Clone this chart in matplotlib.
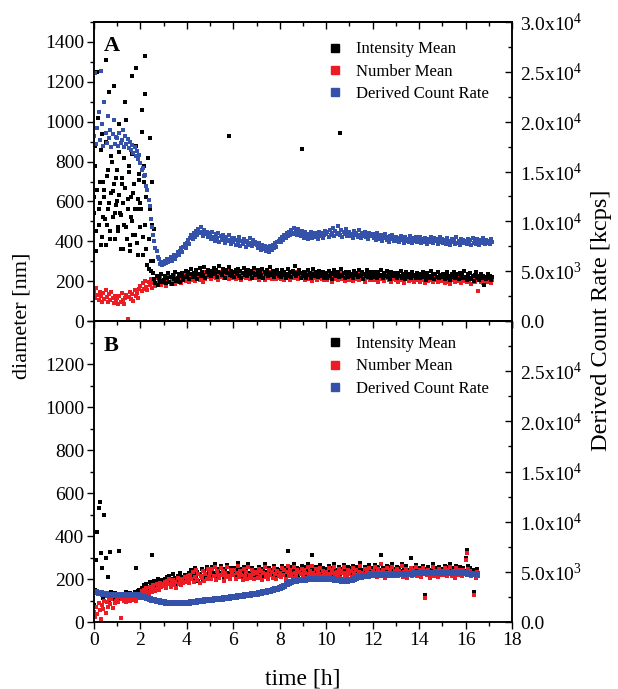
import numpy as np
import matplotlib
matplotlib.use('Agg')
import matplotlib.pyplot as plt
from matplotlib.ticker import MultipleLocator, FixedLocator, FixedFormatter
from matplotlib.lines import Line2D

plt.rcParams['font.family'] = ['Liberation Serif', 'DejaVu Serif']
plt.rcParams['mathtext.fontset'] = 'custom'
plt.rcParams['mathtext.rm'] = 'Liberation Serif'

DT = 0.05          # h between diameter readings
DT_RATE_B = 0.1    # h between count-rate readings in panel B

# ---- panel A ----
# intensity mean [nm], one row per hour
intensity_a = [
    620, 880, 450, 1250, 560, 700, 380, 940, 520, 660, 1310, 480, 760, 590, 410, 830, 650, 1180, 540, 720,
    600, 450, 990, 530, 690, 360, 820, 1100, 470, 610, 750, 380, 520, 1230, 640, 430, 880, 560, 330, 710,
    590, 1060, 420, 780, 1330, 360, 660, 260, 920, 300, 480, 240, 210, 190, 225, 180, 215, 200, 235, 195,
    205, 228, 190, 215, 240, 198, 222, 186, 230, 212, 248, 200, 218, 235, 195, 226, 242, 208, 220, 250,
    225, 248, 212, 236, 260, 219, 241, 228, 255, 210, 238, 265, 224, 246, 232, 270, 218, 244, 256, 230,
    252, 228, 245, 268, 236, 258, 222, 247, 275, 240, 230, 262, 248, 218, 255, 240, 270, 232, 250, 226,
    244, 220, 256, 238, 262, 228, 250, 214, 242, 268, 232, 246, 224, 258, 236, 250, 218, 240, 265, 230,
    238, 256, 222, 245, 230, 262, 216, 248, 236, 254, 226, 242, 270, 230, 250, 220, 244, 236, 258, 228,
    240, 222, 256, 232, 248, 215, 238, 262, 228, 244, 220, 252, 236, 275, 226, 242, 234, 255, 218, 240,
    226, 248, 235, 218, 256, 230, 242, 214, 238, 260, 224, 246, 232, 220, 252, 236, 228, 244, 216, 240,
    232, 218, 250, 226, 242, 212, 238, 256, 224, 236, 248, 220, 232, 262, 226, 240, 214, 246, 230, 222,
    244, 226, 236, 216, 252, 230, 240, 220, 258, 232, 224, 246, 212, 238, 228, 254, 222, 236, 245, 218,
    230, 248, 220, 238, 214, 244, 226, 256, 232, 218, 240, 228, 250, 222, 234, 212, 246, 230, 224, 242,
    228, 216, 240, 224, 252, 218, 234, 226, 210, 244, 230, 220, 238, 214, 248, 226, 232, 218, 242, 224,
    236, 214, 228, 246, 220, 232, 208, 240, 224, 216, 250, 226, 234, 212, 238, 222, 244, 218, 230, 226,
    222, 238, 210, 230, 244, 218, 226, 206, 236, 220, 248, 214, 228, 234, 212, 240, 222, 230, 216, 252,
    220, 206, 234, 218, 240, 212, 226, 200, 230, 244, 214, 224, 208, 236, 218, 228, 180, 222, 210, 238,
    214, 228, 206, 220,
]
# extra intensity readings in the first 2.6 h (every 0.04 h from 0.02 h)
intensity_a_early = [
    540, 780, 350, 660, 1020, 480, 590, 860, 420, 700,
    620, 510, 900, 380, 730, 560, 1150, 450, 640, 800,
    520, 690, 410, 580, 760, 470, 850, 630, 540, 360,
    720, 590, 480, 670, 1010, 410, 560, 780, 350, 620,
    500, 840, 430, 690, 560, 1270, 390, 610, 740, 470,
    560, 950, 330, 700, 480, 1140, 620, 280, 820, 410,
    560, 250, 700, 300, 460,
]
outlier_a_time = [5.8, 8.95, 10.6]
outlier_a_value = [928, 863, 943]

number_a = [
    150, 118, 165, 132, 104, 145, 126, 98, 140, 112, 158, 122, 96, 134, 108, 146, 118, 92, 128, 104,
    116, 88, 124, 98, 140, 106, 84, 118, 132, 12, 122, 148, 110, 136, 102, 154, 126, 142, 118, 160,
    175, 150, 190, 162, 200, 172, 155, 196, 180, 210, 168, 192, 205, 178, 215, 186, 198, 225, 182, 204,
    190, 212, 178, 205, 222, 196, 184, 216, 200, 232, 188, 210, 198, 226, 204, 192, 218, 206, 230, 200,
    210, 228, 196, 218, 236, 204, 222, 200, 240, 214, 226, 208, 232, 218, 198, 246, 212, 228, 220, 238,
    232, 212, 240, 222, 250, 218, 236, 206, 228, 245, 220, 232, 214, 240, 226, 252, 210, 234, 224, 218,
    226, 240, 212, 230, 218, 246, 224, 206, 236, 220, 232, 214, 242, 226, 210, 238, 222, 230, 216, 244,
    218, 234, 208, 228, 242, 216, 226, 204, 238, 222, 214, 244, 226, 210, 232, 220, 240, 212, 228, 218,
    230, 212, 226, 242, 208, 222, 236, 216, 228, 204, 240, 220, 214, 234, 226, 246, 210, 224, 218, 232,
    214, 228, 206, 236, 220, 210, 232, 222, 200, 240, 216, 226, 208, 230, 218, 238, 212, 224, 206, 228,
    220, 206, 232, 214, 224, 198, 236, 212, 226, 216, 204, 230, 218, 240, 210, 222, 200, 228, 214, 234,
    208, 226, 216, 200, 234, 212, 222, 238, 206, 218, 228, 210, 224, 196, 230, 214, 220, 236, 208, 222,
    216, 204, 228, 212, 220, 196, 232, 210, 218, 226, 202, 222, 214, 236, 208, 220, 198, 228, 212, 216,
    206, 222, 198, 214, 228, 204, 216, 192, 226, 210, 218, 200, 232, 212, 206, 224, 196, 216, 208, 220,
    212, 196, 224, 206, 218, 190, 228, 210, 200, 222, 208, 214, 194, 226, 204, 216, 198, 220, 210, 206,
    200, 218, 192, 210, 224, 198, 212, 186, 220, 204, 214, 196, 226, 206, 200, 218, 190, 212, 202, 222,
    208, 194, 216, 200, 212, 188, 220, 204, 196, 214, 206, 150, 218, 198, 210, 192, 216, 202, 196, 212,
    198, 214, 192, 206,
]
# derived count rate [10^3 kcps]
count_rate_a = [
    18.6, 24.9, 17.8, 19.4, 21.0, 18.2, 25.1, 19.8, 17.6, 22.0, 18.9, 17.9, 20.6, 18.4, 19.2, 17.5, 18.8, 20.2, 17.8, 18.5,
    18.4, 17.6, 18.9, 17.9, 18.2, 19.2, 17.5, 18.6, 17.8, 18.3, 17.4, 18.0, 17.2, 17.7, 16.9, 17.5, 16.6, 17.1, 16.3, 16.7,
    15.9, 15.2, 15.4, 14.6, 14.7, 13.6, 13.2, 12.1, 11.5, 10.2, 9.4, 8.6, 8.0, 7.3, 7.0, 6.4, 6.2, 5.7, 5.9, 5.6,
    5.7, 6.0, 5.8, 6.2, 5.9, 6.1, 6.4, 6.0, 6.3, 6.6, 6.2, 6.5, 6.9, 6.6, 7.0, 7.3, 6.9, 7.4, 7.7, 7.3,
    7.8, 8.1, 7.7, 8.3, 8.6, 8.2, 8.8, 8.4, 9.0, 8.6, 9.2, 8.8, 9.4, 8.9, 8.5, 9.1, 8.7, 8.9, 8.4, 8.8,
    8.6, 8.2, 8.9, 8.4, 8.0, 8.7, 8.3, 8.8, 7.9, 8.5, 8.1, 8.6, 8.2, 7.8, 8.4, 8.0, 8.6, 8.1, 7.7, 8.3,
    7.9, 8.3, 7.6, 8.1, 7.8, 8.4, 7.5, 8.0, 7.7, 8.2, 7.9, 7.4, 8.0, 7.6, 8.3, 7.8, 7.5, 8.1, 7.7, 7.9,
    7.6, 7.3, 7.8, 7.4, 7.1, 7.6, 7.2, 7.5, 7.0, 7.4, 7.2, 6.9, 7.5, 7.1, 7.6, 7.3, 7.8, 7.4, 7.9, 8.0,
    8.2, 7.9, 8.4, 8.1, 8.6, 8.3, 8.8, 8.5, 8.9, 8.6, 9.1, 8.7, 9.3, 8.8, 9.0, 8.6, 9.2, 8.8, 8.5, 9.0,
    8.6, 8.3, 8.9, 8.5, 8.2, 8.7, 8.4, 8.9, 8.3, 8.6, 8.8, 8.4, 8.7, 8.2, 8.9, 8.5, 8.8, 8.3, 8.6, 9.0,
    8.7, 8.9, 8.4, 9.1, 8.6, 8.8, 9.3, 8.5, 9.0, 8.7, 9.5, 8.8, 8.6, 9.1, 8.4, 8.9, 8.7, 9.2, 8.5, 8.8,
    8.9, 8.5, 8.7, 8.3, 9.0, 8.6, 8.8, 8.4, 9.1, 8.6, 8.3, 8.8, 8.5, 8.9, 8.4, 8.7, 8.2, 8.8, 8.5, 8.6,
    8.7, 8.3, 8.6, 8.1, 8.8, 8.4, 8.2, 8.6, 8.0, 8.5, 8.3, 8.7, 8.1, 8.4, 7.9, 8.5, 8.2, 8.6, 8.0, 8.3,
    8.4, 8.0, 8.3, 7.9, 8.5, 8.1, 8.3, 7.8, 8.4, 8.0, 8.2, 7.9, 8.5, 8.1, 7.8, 8.3, 8.0, 8.4, 7.9, 8.2,
    8.0, 8.4, 7.8, 8.2, 7.9, 8.3, 8.0, 7.7, 8.2, 7.9, 8.4, 8.1, 7.8, 8.3, 8.0, 8.2, 7.7, 8.1, 8.4, 7.9,
    8.2, 7.8, 8.1, 7.7, 8.3, 7.9, 8.0, 7.6, 8.2, 7.9, 8.1, 7.7, 8.4, 7.8, 8.0, 7.6, 8.2, 7.9, 8.1, 7.8,
    8.0, 7.7, 8.2, 7.9, 8.1, 7.6, 8.3, 7.8, 8.0, 7.7, 8.2, 7.9, 7.6, 8.1, 7.8, 8.3, 7.9, 7.7, 8.1, 7.8,
    8.0, 7.7, 8.2, 7.9,
]

# ---- panel B ----
intensity_b = [
    80, 150, 290, 420, 530, 560, 320, 250, 110, 500, 300, 130, 210, 95, 325, 140, 120, 105, 135, 115,
    125, 110, 330, 118, 132, 105, 128, 115, 140, 120, 108, 135, 122, 112, 130, 138, 250, 126, 145, 150,
    148, 160, 142, 170, 155, 178, 162, 150, 185, 168, 310, 175, 190, 160, 182, 198, 172, 188, 165, 195,
    185, 200, 176, 208, 192, 215, 180, 198, 222, 188, 205, 175, 212, 196, 226, 190, 208, 184, 218, 200,
    212, 195, 228, 205, 240, 198, 218, 250, 206, 232, 190, 224, 212, 245, 202, 236, 214, 258, 208, 226,
    240, 215, 255, 226, 270, 210, 245, 232, 218, 262, 228, 248, 205, 238, 222, 266, 230, 214, 250, 236,
    228, 252, 210, 240, 276, 220, 246, 232, 205, 258, 226, 242, 214, 268, 230, 218, 250, 236, 212, 244,
    236, 215, 258, 226, 246, 208, 240, 270, 222, 234, 212, 252, 228, 244, 218, 262, 232, 210, 248, 226,
    240, 222, 262, 230, 250, 214, 244, 330, 226, 256, 236, 218, 268, 240, 228, 252, 212, 246, 234, 260,
    228, 256, 240, 218, 268, 236, 250, 224, 310, 242, 230, 258, 216, 246, 236, 264, 226, 250, 240, 220,
    246, 228, 262, 236, 214, 252, 240, 270, 226, 244, 232, 258, 218, 248, 238, 266, 224, 242, 230, 256,
    236, 250, 222, 262, 240, 216, 254, 232, 246, 274, 228, 242, 220, 258, 236, 248, 226, 264, 238, 230,
    250, 232, 266, 240, 222, 258, 244, 310, 230, 252, 238, 216, 262, 242, 228, 256, 236, 270, 226, 248,
    240, 258, 226, 250, 236, 272, 222, 246, 232, 260, 218, 244, 238, 300, 228, 252, 236, 266, 224, 246,
    234, 252, 220, 262, 240, 125, 248, 230, 256, 216, 244, 236, 268, 226, 250, 238, 222, 258, 242, 230,
    248, 232, 262, 240, 224, 256, 238, 270, 228, 250, 236, 218, 262, 244, 230, 256, 240, 226, 252, 238,
    300, 335, 260, 230, 250, 228, 240, 140, 232, 218, 246, 226,
]
number_b = [
    45, 25, 70, 38, 90, 55, 15, 80, 60, 100, 42, 95, 70, 110, 85, 105, 65, 120, 90, 100,
    110, 95, 118, 18, 105, 125, 100, 112, 92, 120, 108, 98, 115, 104, 125, 110, 100, 118, 128, 112,
    130, 145, 122, 150, 138, 160, 142, 132, 165, 150, 140, 172, 155, 145, 178, 160, 150, 182, 165, 175,
    168, 185, 160, 192, 175, 200, 165, 182, 195, 172, 188, 160, 205, 178, 192, 170, 198, 182, 210, 186,
    195, 212, 182, 220, 198, 232, 188, 210, 240, 195, 222, 180, 215, 205, 238, 192, 225, 202, 246, 210,
    230, 200, 245, 212, 258, 195, 236, 218, 205, 250, 220, 238, 192, 226, 210, 255, 216, 200, 240, 224,
    218, 240, 198, 230, 262, 208, 236, 220, 194, 248, 214, 232, 202, 256, 220, 206, 240, 224, 198, 234,
    226, 204, 246, 214, 236, 196, 230, 258, 210, 224, 200, 242, 218, 234, 206, 250, 222, 198, 238, 214,
    228, 210, 250, 218, 240, 200, 232, 262, 214, 244, 224, 206, 256, 228, 216, 240, 198, 234, 222, 248,
    216, 244, 228, 206, 256, 224, 238, 212, 262, 230, 218, 246, 204, 234, 224, 252, 214, 238, 228, 208,
    234, 216, 250, 224, 202, 240, 228, 258, 214, 232, 220, 246, 206, 236, 226, 254, 212, 230, 218, 244,
    224, 238, 210, 250, 228, 204, 242, 220, 234, 262, 216, 230, 208, 246, 224, 236, 214, 252, 226, 218,
    238, 220, 254, 228, 210, 246, 232, 268, 218, 240, 226, 204, 250, 230, 216, 244, 224, 258, 214, 236,
    228, 246, 214, 238, 224, 260, 210, 234, 220, 248, 206, 232, 226, 252, 216, 240, 224, 254, 212, 234,
    222, 240, 208, 250, 228, 112, 236, 218, 244, 204, 232, 224, 256, 214, 238, 226, 210, 246, 230, 218,
    236, 220, 250, 228, 212, 244, 226, 258, 216, 238, 224, 206, 250, 232, 218, 244, 228, 214, 240, 226,
    290, 320, 248, 218, 238, 216, 228, 125, 220, 206, 234, 214,
]
count_rate_b = [
    3.02, 2.98, 2.92, 2.86, 2.80, 2.76, 2.72, 2.70, 2.68, 2.67,
    2.66, 2.66, 2.65, 2.66, 2.66, 2.67, 2.68, 2.68, 2.67, 2.65,
    2.60, 2.54, 2.46, 2.38, 2.30, 2.22, 2.16, 2.10, 2.05, 2.00,
    1.96, 1.93, 1.90, 1.88, 1.87, 1.86, 1.86, 1.87, 1.88, 1.90,
    1.91, 1.93, 1.95, 1.98, 2.01, 2.05, 2.09, 2.13, 2.17, 2.20,
    2.22, 2.24, 2.26, 2.27, 2.30, 2.33, 2.37, 2.41, 2.44, 2.47,
    2.50, 2.52, 2.55, 2.58, 2.62, 2.66, 2.69, 2.72, 2.76, 2.80,
    2.84, 2.88, 2.92, 2.97, 3.02, 3.08, 3.14, 3.20, 3.27, 3.34,
    3.42, 3.52, 3.63, 3.75, 3.87, 3.98, 4.06, 4.12, 4.16, 4.18,
    4.20, 4.22, 4.24, 4.26, 4.27, 4.28, 4.29, 4.30, 4.30, 4.29,
    4.28, 4.27, 4.26, 4.24, 4.22, 4.18, 4.14, 4.10, 4.08, 4.10,
    4.15, 4.22, 4.30, 4.38, 4.46, 4.52, 4.56, 4.60, 4.62, 4.64,
    4.65, 4.66, 4.68, 4.69, 4.70, 4.70, 4.71, 4.72, 4.73, 4.74,
    4.75, 4.76, 4.78, 4.79, 4.80, 4.81, 4.82, 4.83, 4.84, 4.85,
    4.86, 4.87, 4.88, 4.88, 4.89, 4.90, 4.90, 4.91, 4.92, 4.92,
    4.93, 4.93, 4.92, 4.92, 4.91, 4.90, 4.89, 4.88, 4.87, 4.86,
    4.84, 4.82, 4.80, 4.78, 4.76, 4.74,
]

series_labels = ['Intensity Mean', 'Number Mean', 'Derived Count Rate']
BLACK, RED, BLUE = '#000000', '#ec1c24', '#3552ab'

rate_ticks = [0, 5e3, 1e4, 1.5e4, 2e4, 2.5e4, 3e4]
rate_labels = ['0.0', r'5.0x10$^{3}$', r'1.0x10$^{4}$', r'1.5x10$^{4}$',
               r'2.0x10$^{4}$', r'2.5x10$^{4}$', r'3.0x10$^{4}$']


def style_axes(ax, ax2, dmax, show_top_labels):
    ax.set_xlim(0, 18)
    ax.set_ylim(0, dmax)
    ax2.set_ylim(0, 3e4)
    ticks = list(range(0, 1401, 200))
    labels = [str(v) for v in ticks]
    if not show_top_labels:
        labels[-1] = ''
    ax.yaxis.set_major_locator(FixedLocator(ticks))
    ax.yaxis.set_major_formatter(FixedFormatter(labels))
    ax.yaxis.set_minor_locator(MultipleLocator(100))
    ax.xaxis.set_major_locator(MultipleLocator(2))
    ax.xaxis.set_minor_locator(MultipleLocator(1))
    ax.tick_params(which='both', direction='out', width=1, labelsize=14, pad=2)
    ax.tick_params(which='major', length=5)
    ax.tick_params(which='minor', length=3)

    rl = list(rate_labels)
    if not show_top_labels:
        rl[-1] = ''
    ax2.yaxis.set_major_locator(FixedLocator(rate_ticks))
    ax2.yaxis.set_major_formatter(FixedFormatter(rl))
    ax2.yaxis.set_minor_locator(MultipleLocator(2500))
    ax2.tick_params(which='both', direction='in', width=1, labelsize=14, pad=6)
    ax2.tick_params(which='major', length=5)
    ax2.tick_params(which='minor', length=3)

    top = ax.secondary_xaxis('top')
    top.xaxis.set_major_locator(MultipleLocator(2))
    top.xaxis.set_minor_locator(MultipleLocator(1))
    top.tick_params(which='both', direction='in', width=1, labeltop=False)
    top.tick_params(which='major', length=5)
    top.tick_params(which='minor', length=3)
    for a in (ax, ax2):
        for sp in a.spines.values():
            sp.set_linewidth(1.1)
    top.spines['top'].set_linewidth(1.1)


def add_legend(ax, y_anchor):
    handles = [Line2D([], [], marker='s', linestyle='none', markersize=6,
                      markerfacecolor=c, markeredgecolor=c)
               for c in (BLACK, RED, BLUE)]
    ax.legend(handles, series_labels, loc='upper left', bbox_to_anchor=(0.56, y_anchor),
              frameon=False, fontsize=12, borderpad=0, handlelength=0.8,
              handletextpad=0.9, labelspacing=0.38, borderaxespad=0)


fig = plt.figure(figsize=(6.18, 6.89), dpi=100)
ax_a = fig.add_axes([0.152, 0.534, 0.6765, 0.434])
ax_b = fig.add_axes([0.152, 0.0972, 0.6765, 0.4368])

# panel A
t_a = np.arange(len(intensity_a)) * DT
t_a_early = 0.02 + np.arange(len(intensity_a_early)) * 0.04
t_rate_a = np.arange(len(count_rate_a)) * DT
ax_a.scatter(np.arange(len(number_a)) * DT, number_a, s=6, marker='s', color=RED, linewidths=0)
ax_a.scatter(t_a, intensity_a, s=6, marker='s', color=BLACK, linewidths=0)
ax_a.scatter(t_a_early, intensity_a_early, s=6, marker='s', color=BLACK, linewidths=0)
ax_a.scatter(outlier_a_time, outlier_a_value, s=6, marker='s', color=BLACK, linewidths=0)
ax_a2 = ax_a.twinx()
ax_a2.scatter(t_rate_a, np.array(count_rate_a) * 1e3, s=7, marker='s', color=BLUE, linewidths=0)
style_axes(ax_a, ax_a2, 1500, True)
ax_a.tick_params(labelbottom=False)
ax_a.text(0.024, 0.952, 'A', transform=ax_a.transAxes, fontsize=16, fontweight='bold', va='top')
add_legend(ax_a, 0.935)

# panel B
t_b = np.arange(len(intensity_b)) * DT
ax_b.scatter(t_b, intensity_b, s=6, marker='s', color=BLACK, linewidths=0)
ax_b.scatter(np.arange(len(number_b)) * DT, number_b, s=6, marker='s', color=RED, linewidths=0)
ax_b2 = ax_b.twinx()
ax_b2.scatter(np.arange(len(count_rate_b)) * DT_RATE_B, np.array(count_rate_b) * 1e3,
              s=16, marker='s', color=BLUE, linewidths=0)
style_axes(ax_b, ax_b2, 1400, False)
ax_b.text(0.024, 0.95, 'B', transform=ax_b.transAxes, fontsize=16, fontweight='bold', va='top')
add_legend(ax_b, 0.95)

ax_b.set_xlabel('time [h]', fontsize=17, labelpad=14)
fig.text(0.036, 0.541, 'diameter [nm]', rotation=90, fontsize=16, ha='center', va='center')
fig.text(0.974, 0.535, 'Derived Count Rate [kcps]', rotation=90, fontsize=17.5,
         ha='center', va='center')

fig.savefig('out.png', dpi=100)
